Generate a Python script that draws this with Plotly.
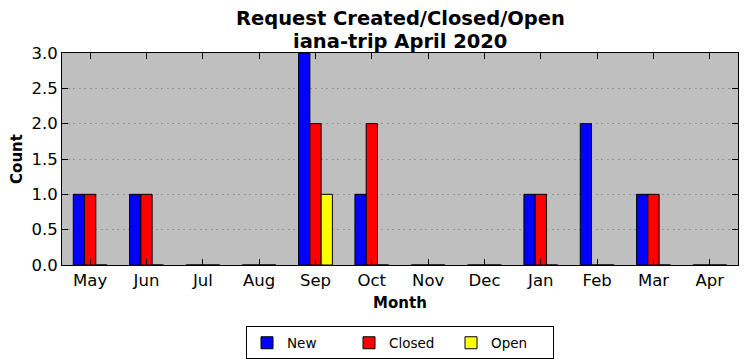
import plotly.graph_objects as go

months = ["May", "Jun", "Jul", "Aug", "Sep", "Oct", "Nov", "Dec", "Jan", "Feb", "Mar", "Apr"]
new_vals = [1, 1, 0, 0, 3, 1, 0, 0, 1, 2, 1, 0]
closed_vals = [1, 1, 0, 0, 2, 2, 0, 0, 1, 0, 1, 0]
open_vals = [0, 0, 0, 0, 1, 0, 0, 0, 0, 0, 0, 0]
title_lines = ["Request Created/Closed/Open", "iana-trip April 2020"]

series = [("New", new_vals, "#0000ff"), ("Closed", closed_vals, "#ff0000"), ("Open", open_vals, "#ffff00")]

fig = go.Figure()
for name, vals, color in series:
    fig.add_trace(go.Bar(x=months, y=vals, name=name,
                         marker=dict(color=color, line=dict(color="black", width=1))))

font = "DejaVu Sans"
# page body has an 8px margin, so the figure is sized/offset to compensate
plot_h = 212
for i, line in enumerate(title_lines):
    fig.add_annotation(text="<b>%s</b>" % line, xref="paper", yref="paper",
                       x=0.5, y=1 + (34 - 22 * i) / plot_h, xanchor="center", yanchor="middle",
                       showarrow=False, font=dict(size=19.5, family=font, color="black"))

fig.update_layout(
    width=739, height=353,
    margin=dict(l=54, r=9, t=45, b=96, autoexpand=False),
    paper_bgcolor="white", plot_bgcolor="#bfbfbf",
    barmode="group", bargap=0.4, bargroupgap=0,
    font=dict(family=font, color="black", size=16),
    xaxis=dict(title=dict(text="<b>Month</b>", font=dict(size=15), standoff=8),
               showgrid=False, showline=True, linecolor="black", linewidth=1, mirror="ticks",
               ticks="inside", ticklen=6, tickcolor="black", range=[-0.5, 11.5],
               tickfont=dict(size=16.5)),
    yaxis=dict(title=dict(text="<b>Count</b>", font=dict(size=15), standoff=10),
               range=[0, 3], dtick=0.5, tickformat=".1f",
               showgrid=True, gridcolor="#959595", griddash="2px,3.5px", gridwidth=1,
               showline=True, linecolor="black", linewidth=1, mirror="ticks",
               ticks="inside", ticklen=6, tickcolor="black", zeroline=False,
               tickfont=dict(size=16.5)),
    legend=dict(orientation="h", x=0.5, xanchor="center", y=-0.29, yanchor="top",
                bordercolor="black", borderwidth=1, font=dict(size=13.5),
                itemwidth=30, entrywidth=57, tracegroupgap=0),
)
fig.write_html("out.html")
